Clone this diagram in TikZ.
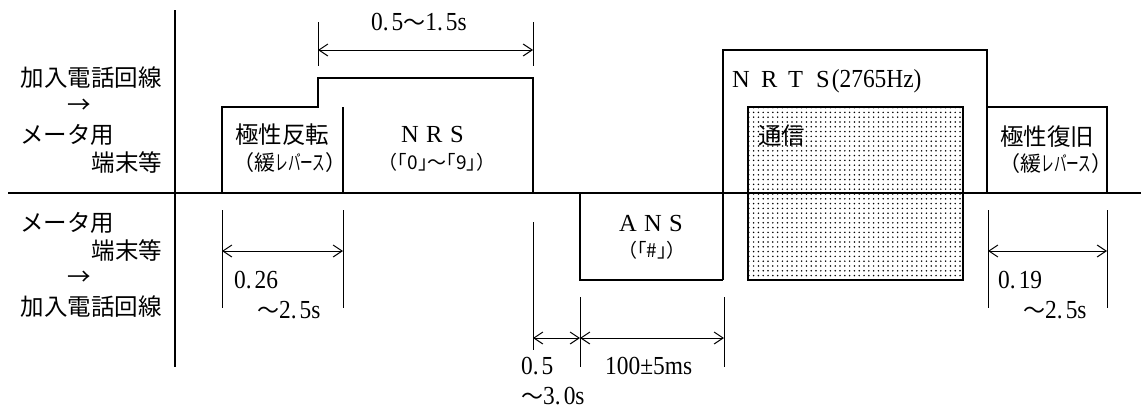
\documentclass[tikz,border=0pt]{standalone}
\usepackage{fontspec}
\setmainfont{Liberation Serif}
\newfontfamily\jpf{Noto Sans CJK JP}
\newfontfamily\numf[FakeStretch=0.9]{Liberation Serif}
\usetikzlibrary{arrows.meta,patterns.meta}
\newcommand\jpl{\jpf\fontsize{23.5}{26}\selectfont}
\newcommand\jpm{\jpf\fontsize{21}{24}\selectfont}
\newcommand\jpt{\jpf\fontsize{19}{21}\selectfont}
\newcommand\numl{\numf\fontsize{26}{28}\selectfont}
\newcommand\wvd{{\jpf\fontsize{22}{22}\selectfont ～}}
\newcommand\capl{\fontsize{24.5}{26}\selectfont}
\newcommand\dotsp{\hspace{3pt}}
\newcommand\rvs{\scalebox{0.6}[1]{レバース}}
\begin{document}
\begin{tikzpicture}[x=1pt,y=-1pt,
  wave/.style={line width=2.6pt},
  axisline/.style={line width=1.1pt},
  ext/.style={line width=1pt},
  dim/.style={line width=1pt,{Straight Barb[length=9pt,width=12pt]}-{Straight Barb[length=9pt,width=12pt]}},
  lbl/.style={inner sep=0pt, anchor=center},
  lblw/.style={inner sep=0pt, anchor=west},
  jlab/.style={lbl, font=\jpl},
  blab/.style={lbl, font=\jpm},
  slab/.style={lbl, font=\jpt},
  nlab/.style={lblw, font=\numl},
]
\useasboundingbox (0,0) rectangle (1141,410);

% communication box (dotted)
\draw[wave, pattern={Dots[distance=4.8pt,radius=0.85pt]}] (748,107) rectangle (963,280);

% axes
\coordinate (hL) at (8,193); \coordinate (hR) at (1141,193);
\coordinate (vT) at (175,10); \coordinate (vB) at (175,367);
\draw[axisline] (hL) -- (hR);
\draw[axisline] (vT) -- (vB);

% upper waveform: polarity reversal + NRS
\draw[wave] (222,193) -- (222,107) -- (318,107) -- (318,78) -- (533,78) -- (533,193);
\draw[wave] (343,107) -- (343,193);
% NRTS
\draw[wave] (723,280) -- (723,50) -- (987,50) -- (987,193);
% polarity restore
\draw[wave] (987,107) -- (1107,107) -- (1107,193);
% ANS
\draw[wave] (580,193) -- (580,280) -- (723,280);

% extension lines
\draw[ext] (318,22) -- (318,66);
\draw[ext] (533,22) -- (533,66);
\draw[ext] (222,210) -- (222,308);
\draw[ext] (343,210) -- (343,308);
\draw[ext] (988,210) -- (988,308);
\draw[ext] (1107,210) -- (1107,308);
\draw[ext] (533,222) -- (533,350);
\draw[ext] (580,297) -- (580,367);
\draw[ext] (724,297) -- (724,367);

% dimension arrows
\coordinate (a1) at (318,50); \coordinate (b1) at (533,50);
\draw[dim] (a1) -- (b1);
\coordinate (a2) at (222,251); \coordinate (b2) at (343,251);
\draw[dim] (a2) -- (b2);
\coordinate (a3) at (988,251); \coordinate (b3) at (1107,251);
\draw[dim] (a3) -- (b3);
\coordinate (a4) at (533,338); \coordinate (b4) at (580,338); \coordinate (c4) at (724,338);
\draw[dim] (a4) -- (b4);
\draw[dim] (b4) -- (c4);

% left labels
\node[jlab] (u1) at (91,78) {加入電話回線};
\node[jlab] (u2) at (79,106) {→};
\node[jlab] (u3) at (67,135) {メータ用};
\node[jlab] (u4) at (127,163) {端末等};
\node[jlab] (l1) at (67,223) {メータ用};
\node[jlab] (l2) at (127,251) {端末等};
\node[jlab] (l3) at (79,278) {→};
\node[jlab] (l4) at (91,307) {加入電話回線};

% box labels
\node[jlab] (pr1) at (282,135) {極性反転};
\node[blab] (pr2) at (290,163) {（緩\rvs）};
\node[lblw, font=\capl] (nrs) at (401,135) {\makebox[25pt][l]{N}\makebox[24pt][l]{R}S};
\node[slab] (nrs2) at (437,162) {（｢0｣～｢9｣）};
\node[lblw, font=\capl] (nrts) at (732,81) {\makebox[29pt][l]{N}\makebox[27pt][l]{R}\makebox[28pt][l]{T}S\hspace{2pt}{\numl(2765Hz)}};
\node[lblw, font=\jpl] (comm) at (758,136) {通信};
\node[jlab] (rs1) at (1047,137) {極性復旧};
\node[blab] (rs2) at (1056,164) {（緩\rvs）};
\node[lblw, font=\capl] (ans) at (619,224) {\makebox[25pt][l]{A}\makebox[25pt][l]{N}S};
\node[slab] (ans2) at (652,250) {（｢\#｣）};

% dimension texts
\node[lbl, font=\numl] (t1) at (419,22) {0.\dotsp5\wvd1.\dotsp5s};
\node[nlab] (t2a) at (234,280) {0.\dotsp26};
\node[nlab] (t2b) at (257,310) {\wvd2.\dotsp5s};
\node[nlab] (t3a) at (998,280) {0.\dotsp19};
\node[nlab] (t3b) at (1023,310) {\wvd2.\dotsp5s};
\node[nlab] (t4a) at (521,366) {0.\dotsp5};
\node[nlab] (t4b) at (521,396) {\wvd3.\dotsp0s};
\node[nlab] (t5) at (605,366) {100±5ms};
\end{tikzpicture}
\end{document}
